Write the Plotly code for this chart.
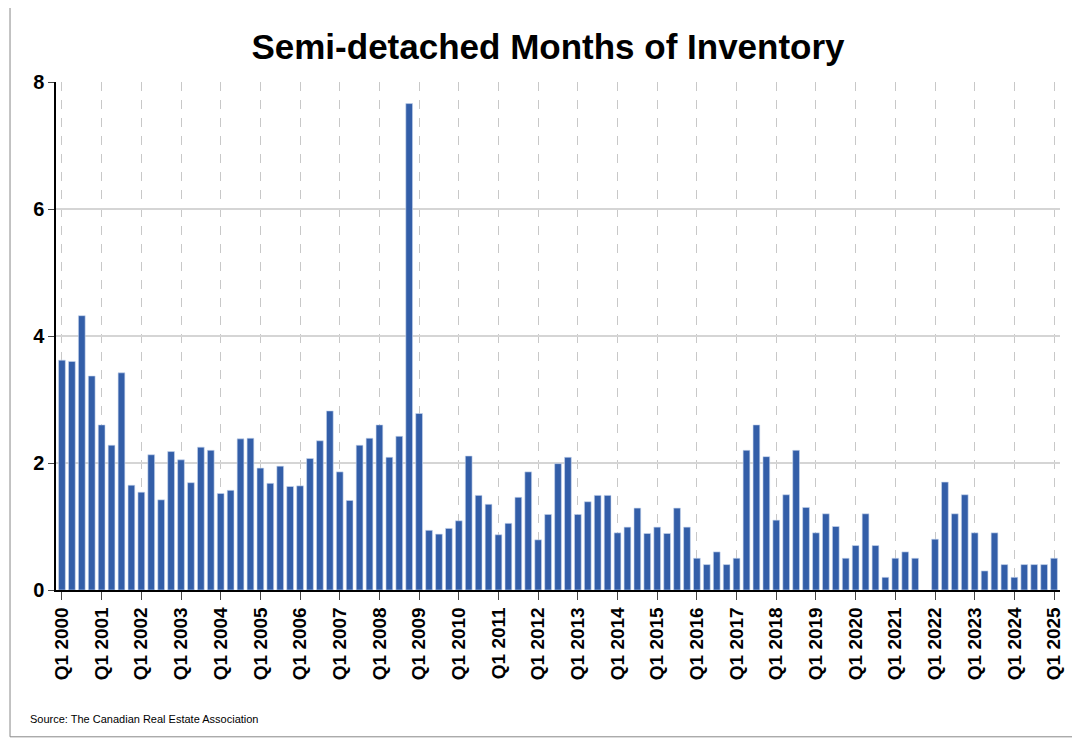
import plotly.graph_objects as go

years = list(range(2000, 2026))
quarters = [f"Q{q} {y}" for y in years for q in range(1, 5)][:101]
values = [3.62,3.6,4.32,3.37, 2.6,2.28,3.42,1.65, 1.54,2.13,1.42,2.18, 2.05,1.69,2.25,2.2,
          1.52,1.57,2.38,2.39, 1.92,1.68,1.95,1.63, 1.64,2.07,2.35,2.82, 1.86,1.41,2.28,2.39,
          2.6,2.09,2.42,7.66, 2.78,0.94,0.88,0.97, 1.09,2.11,1.49,1.35, 0.87,1.05,1.46,1.86,
          0.79,1.19,1.99,2.09, 1.19,1.39,1.49,1.49, 0.9,0.99,1.29,0.89, 0.99,0.89,1.29,0.99,
          0.5,0.4,0.6,0.4, 0.5,2.2,2.6,2.1, 1.1,1.5,2.2,1.3, 0.9,1.2,1.0,0.5,
          0.7,1.2,0.7,0.2, 0.5,0.6,0.5,None, 0.8,1.7,1.2,1.5, 0.9,0.3,0.9,0.4,
          0.2,0.4,0.4,0.4, 0.5]
tick_labels = [f"<b>Q1 {y}</b>" for y in years]
y_ticks = [0, 2, 4, 6, 8]

x = list(range(len(values)))
fig = go.Figure(go.Bar(x=x, y=values, marker=dict(color="#335EA8", line=dict(color="#C9D6EE", width=0.6)),
                       width=0.68, hovertext=quarters))
fig.update_layout(
    width=1080, height=740, plot_bgcolor="white", paper_bgcolor="white",
    margin=dict(l=48, r=28, t=74, b=158),
    title=dict(text="<b>Semi-detached Months of Inventory</b>", x=0.5, y=0.947, xanchor="center", yanchor="middle",
               font=dict(family="Arial", size=35, color="black")),
    font=dict(family="Arial", color="black"), bargap=0.3,
)
fig.update_xaxes(range=[-0.6, 100.6], tickmode="array", tickvals=list(range(0, 101, 4)), ticktext=tick_labels,
                 tickangle=-90, tickfont=dict(size=19, family="Arial"), showline=True, linecolor="black",
                 linewidth=1.5, ticks="outside", ticklen=8, tickcolor="#444", showgrid=True, gridcolor="#C8C8C8",
                 griddash="dash", gridwidth=1)
fig.update_yaxes(range=[0, 8], tickvals=y_ticks, ticktext=[f"<b>{v}</b>" for v in y_ticks],
                 tickfont=dict(size=20, family="Arial"),
                 showline=True, linecolor="black", linewidth=1.5, ticks="outside", ticklen=6, tickcolor="#444",
                 showgrid=True, gridcolor="#D5D5D5", gridwidth=1.5, zeroline=False)
fig.add_annotation(text="Source: The Canadian Real Estate Association", xref="paper", yref="paper",
                   x=-0.028, y=-0.238, xanchor="left", yanchor="top", showarrow=False,
                   font=dict(size=11, family="Arial"))
fig.add_shape(type="rect", xref="paper", yref="paper", x0=-0.0458, x1=1.0249, y0=-0.289, y1=1.157,
              line=dict(color="#888", width=1))
fig.write_html("out.html")
